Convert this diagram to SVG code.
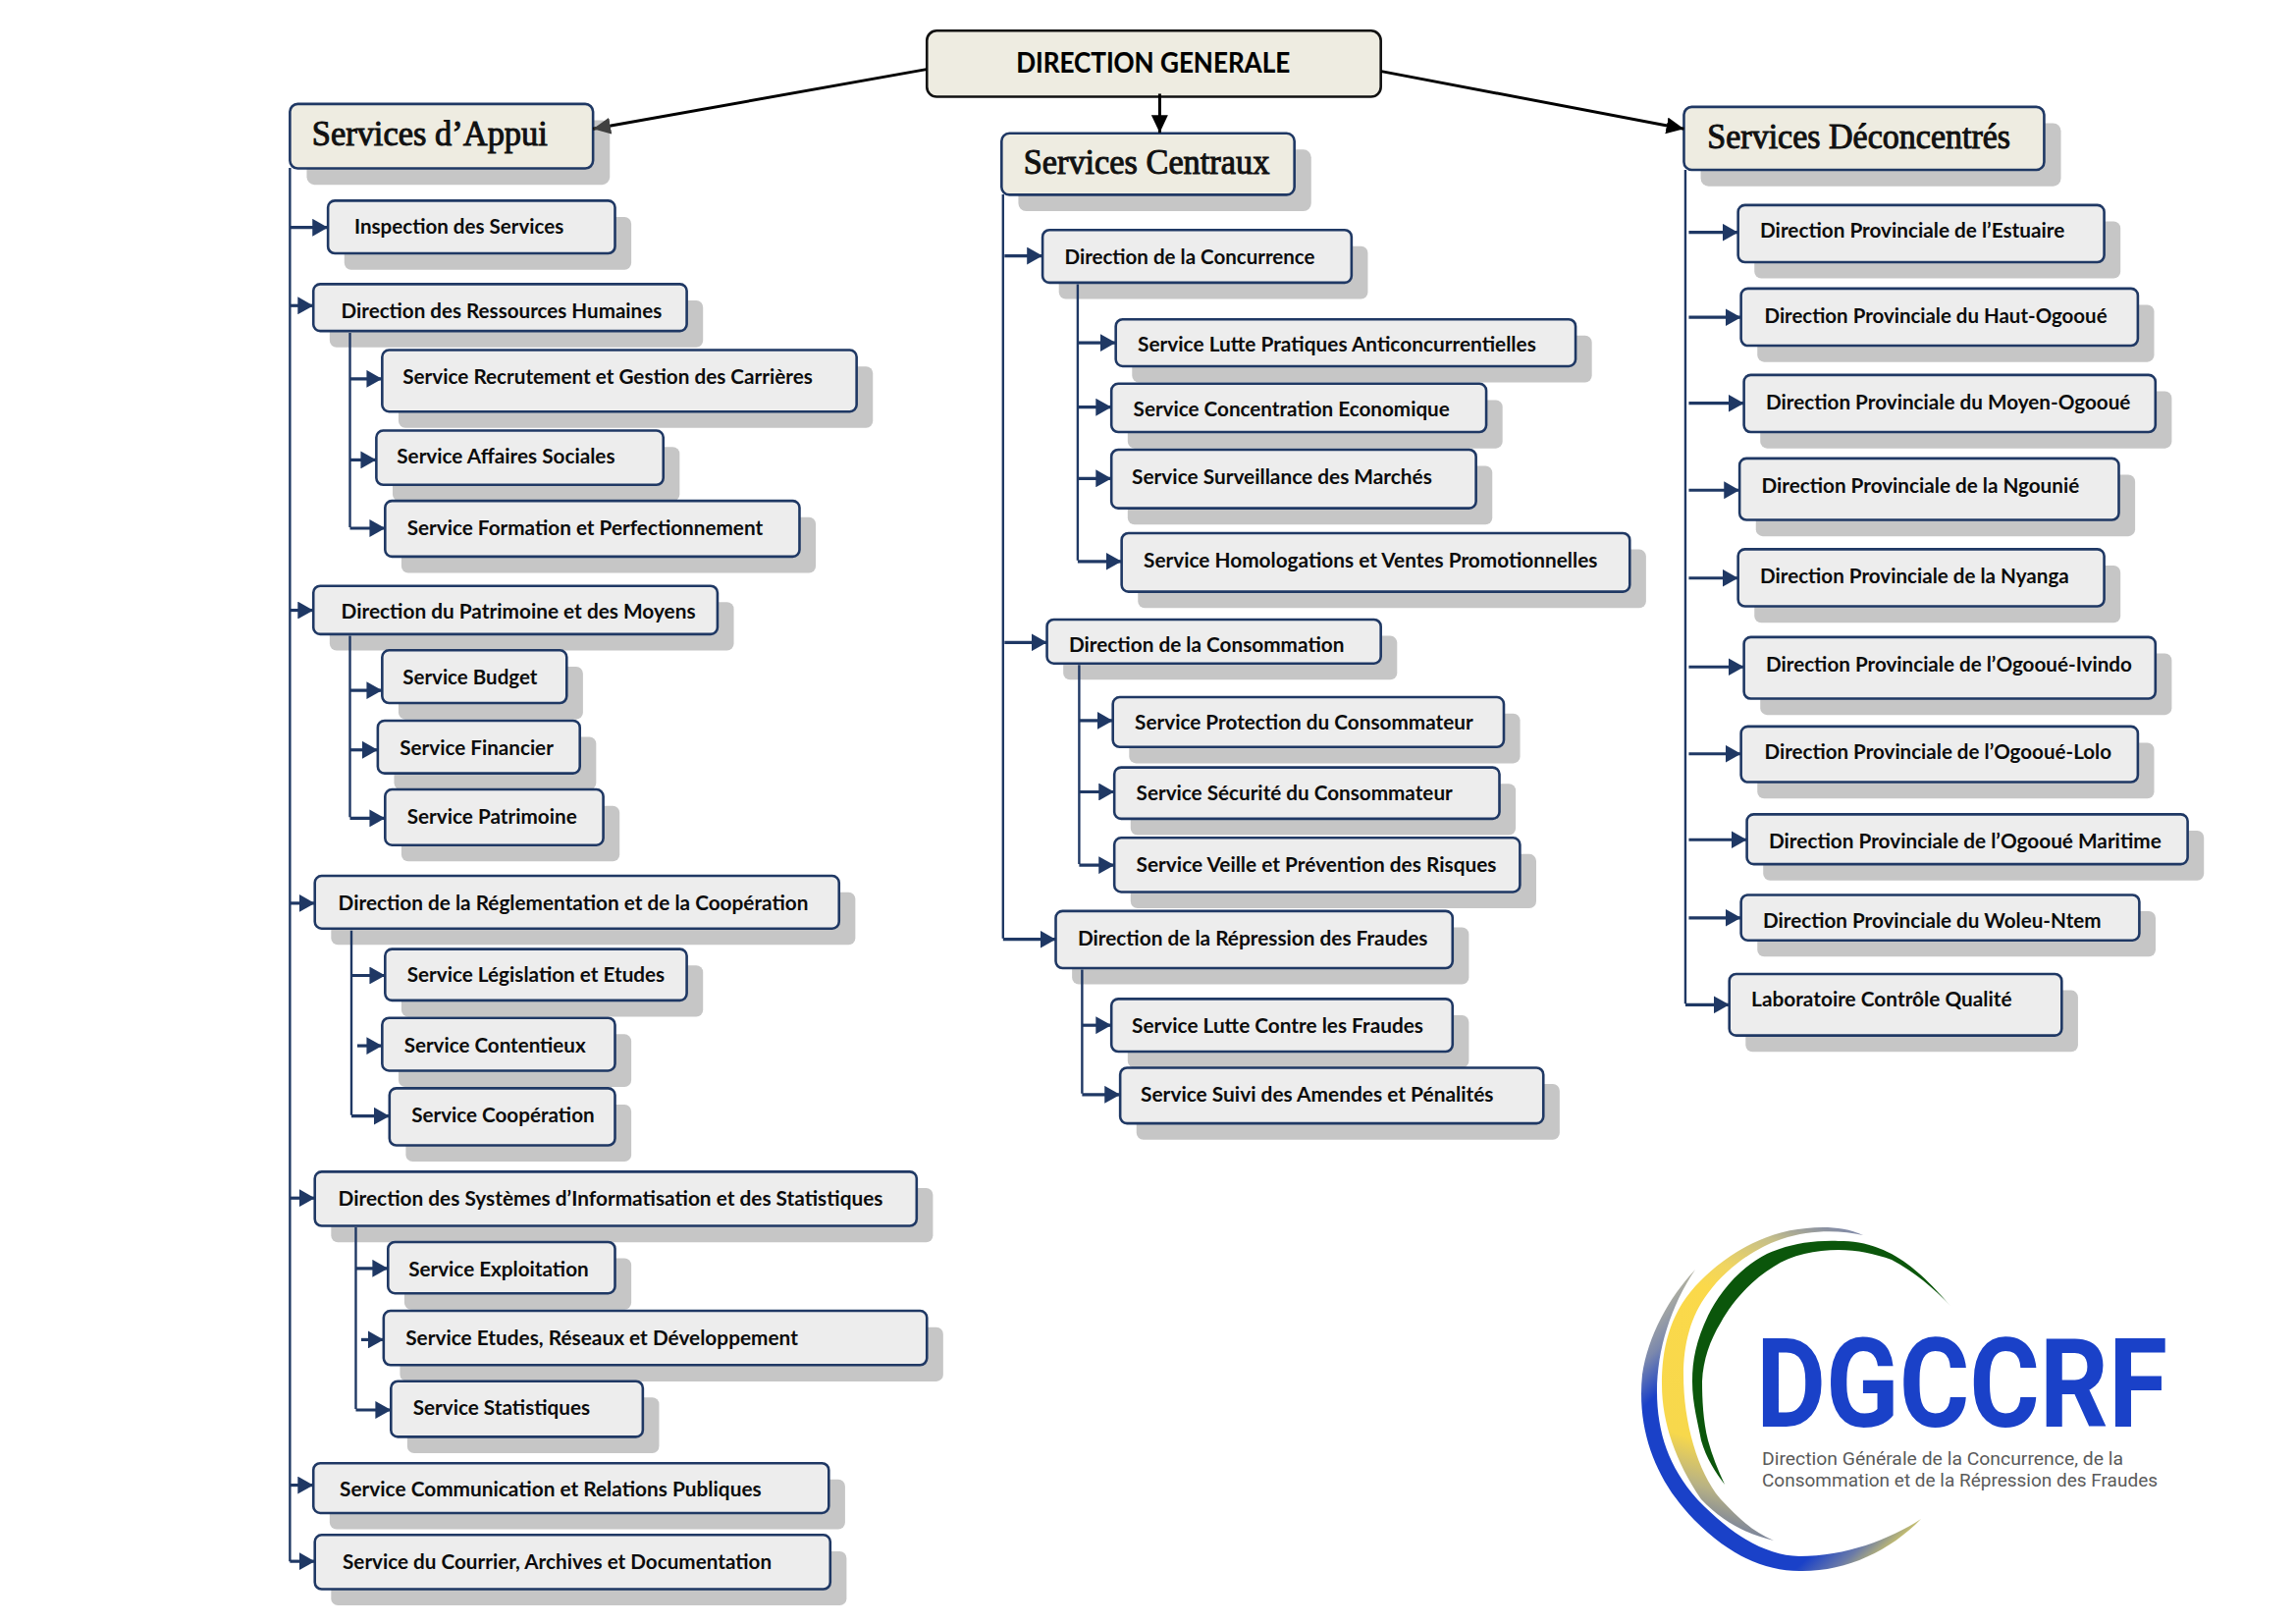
<svg xmlns="http://www.w3.org/2000/svg" width="2339" height="1654" viewBox="0 0 2339 1654">
<defs>
<style>
.sh{fill:#c6c6c6;transform:translate(.7px,.7px)}
.bx{fill:#ededed;stroke:#1f3864;stroke-width:2.6}
.hd{fill:#eeece1;stroke:#1f3864;stroke-width:2.6}
.dg{fill:#eeece1;stroke:#111;stroke-width:2.6}
.t{font-family:"Lato","Liberation Sans",sans-serif;font-weight:700;font-size:21.5px;fill:#0c0c0c;transform:translateY(1px)}
.tdg{font-family:"Lato","Liberation Sans",sans-serif;font-weight:700;font-size:29px;fill:#000;stroke:#000;stroke-width:.2}
.th{font-family:"Liberation Serif",serif;font-weight:400;font-size:35px;fill:#111;stroke:#111;stroke-width:1}
.trunk{fill:none;stroke:#1f3864;stroke-width:2.4}
.st{fill:none;stroke:#1f3864;stroke-width:3.2;marker-end:url(#na);transform:translateY(1px)}
.bl{fill:none;stroke:#000;stroke-width:3}
</style>
<marker id="na" markerUnits="userSpaceOnUse" markerWidth="16" markerHeight="18" viewBox="0 0 16 18" refX="16" refY="9" orient="auto"><path d="M0 0L16 9L0 18Z" fill="#1f3864"/></marker>
<marker id="ba" markerUnits="userSpaceOnUse" markerWidth="18" markerHeight="17" viewBox="0 0 18 17" refX="18" refY="8.5" orient="auto"><path d="M0 0L18 8.5L0 17Z" fill="#000"/></marker>
<marker id="ga" markerUnits="userSpaceOnUse" markerWidth="18" markerHeight="17" viewBox="0 0 18 17" refX="18" refY="8.5" orient="auto"><path d="M0 0L18 8.5L0 17Z" fill="#404040"/></marker>
<linearGradient id="gb" gradientUnits="userSpaceOnUse" x1="1727" y1="1293" x2="1957" y2="1547"><stop offset="0" stop-color="#b0b0a0"/><stop offset=".1" stop-color="#7b88ad"/><stop offset=".2" stop-color="#1a41c8"/><stop offset=".86" stop-color="#1a41c8"/><stop offset=".94" stop-color="#6a7aa8"/><stop offset="1" stop-color="#c2bc70"/></linearGradient>
<linearGradient id="gy" gradientUnits="userSpaceOnUse" x1="1880" y1="1250" x2="1780" y2="1570"><stop offset="0" stop-color="#7c86a8"/><stop offset=".1" stop-color="#c4be8a"/><stop offset=".22" stop-color="#f0d560"/><stop offset=".3" stop-color="#fbd94a"/><stop offset=".75" stop-color="#f7d84c"/><stop offset=".88" stop-color="#b8b284"/><stop offset="1" stop-color="#6f7ba0"/></linearGradient>
</defs>
<g id="page" transform="scale(.99447)">
<g id="dg"><rect class="dg" x="949.500" y="31.500" width="465" height="67.500" rx="10"/><text class="tdg" x="1041" y="74" textLength="280.500" lengthAdjust="spacingAndGlyphs">DIRECTION GENERALE</text></g>
<g id="sa"><rect class="sh" x="313.500" y="122.500" width="310.500" height="66" rx="8"/><rect class="hd" x="297" y="106.500" width="310.500" height="66" rx="8"/><text class="th" x="319.500" y="149" textLength="241.500" lengthAdjust="spacingAndGlyphs">Services d’Appui</text></g>
<g id="sc"><rect class="sh" x="1042.500" y="152.500" width="300" height="63" rx="8"/><rect class="hd" x="1026" y="136.500" width="300" height="63" rx="8"/><text class="th" x="1048.500" y="178" textLength="252" lengthAdjust="spacingAndGlyphs">Services Centraux</text></g>
<g id="sd"><rect class="sh" x="1741.500" y="125.500" width="369" height="64.500" rx="8"/><rect class="hd" x="1725" y="109.500" width="369" height="64.500" rx="8"/><text class="th" x="1749" y="152" textLength="310.500" lengthAdjust="spacingAndGlyphs">Services Déconcentrés</text></g>

<g id="a1"><rect class="sh" x="352" y="221.500" width="294" height="54" rx="7"/><rect class="bx" x="336" y="205.500" width="294" height="54" rx="7"/><text class="t" x="363" y="238" textLength="214.500" lengthAdjust="spacingAndGlyphs">Inspection des Services</text></g>
<g id="a2"><rect class="sh" x="337" y="307" width="382.500" height="48" rx="7"/><rect class="bx" x="321" y="291" width="382.500" height="48" rx="7"/><text class="t" x="349.500" y="325" textLength="328.500" lengthAdjust="spacingAndGlyphs">Direction des Ressources Humaines</text></g>
<g id="a3"><rect class="sh" x="407.500" y="374.500" width="486" height="63" rx="7"/><rect class="bx" x="391.500" y="358.500" width="486" height="63" rx="7"/><text class="t" x="412.500" y="392.500" textLength="420" lengthAdjust="spacingAndGlyphs">Service Recrutement et Gestion des Carrières</text></g>
<g id="a4"><rect class="sh" x="401.500" y="457" width="294" height="55.500" rx="7"/><rect class="bx" x="385.500" y="441" width="294" height="55.500" rx="7"/><text class="t" x="406.500" y="473.500" textLength="223.500" lengthAdjust="spacingAndGlyphs">Service Affaires Sociales</text></g>
<g id="a5"><rect class="sh" x="410.500" y="529" width="424.500" height="57" rx="7"/><rect class="bx" x="394.500" y="513" width="424.500" height="57" rx="7"/><text class="t" x="417" y="547" textLength="364.500" lengthAdjust="spacingAndGlyphs">Service Formation et Perfectionnement</text></g>
<g id="a6"><rect class="sh" x="337" y="616" width="414" height="49.500" rx="7"/><rect class="bx" x="321" y="600" width="414" height="49.500" rx="7"/><text class="t" x="349.500" y="632.500" textLength="363" lengthAdjust="spacingAndGlyphs">Direction du Patrimoine et des Moyens</text></g>
<g id="a7"><rect class="sh" x="407.500" y="682" width="189" height="54" rx="7"/><rect class="bx" x="391.500" y="666" width="189" height="54" rx="7"/><text class="t" x="412.500" y="700" textLength="138" lengthAdjust="spacingAndGlyphs">Service Budget</text></g>
<g id="a8"><rect class="sh" x="403" y="754" width="207" height="54" rx="7"/><rect class="bx" x="387" y="738" width="207" height="54" rx="7"/><text class="t" x="409.500" y="772" textLength="157.500" lengthAdjust="spacingAndGlyphs">Service Financier</text></g>
<g id="a9"><rect class="sh" x="410.500" y="824.500" width="223.500" height="57" rx="7"/><rect class="bx" x="394.500" y="808.500" width="223.500" height="57" rx="7"/><text class="t" x="417" y="842.500" textLength="174" lengthAdjust="spacingAndGlyphs">Service Patrimoine</text></g>
<g id="a10"><rect class="sh" x="338.500" y="913" width="537" height="54" rx="7"/><rect class="bx" x="322.500" y="897" width="537" height="54" rx="7"/><text class="t" x="346.500" y="931" textLength="481.500" lengthAdjust="spacingAndGlyphs">Direction de la Réglementation et de la Coopération</text></g>
<g id="a11"><rect class="sh" x="410.500" y="988" width="309" height="52.500" rx="7"/><rect class="bx" x="394.500" y="972" width="309" height="52.500" rx="7"/><text class="t" x="417" y="1004.500" textLength="264" lengthAdjust="spacingAndGlyphs">Service Législation et Etudes</text></g>
<g id="a12"><rect class="sh" x="407.500" y="1058.500" width="238.500" height="54" rx="7"/><rect class="bx" x="391.500" y="1042.500" width="238.500" height="54" rx="7"/><text class="t" x="414" y="1076.500" textLength="186" lengthAdjust="spacingAndGlyphs">Service Contentieux</text></g>
<g id="a13"><rect class="sh" x="415" y="1130.500" width="231" height="58.500" rx="7"/><rect class="bx" x="399" y="1114.500" width="231" height="58.500" rx="7"/><text class="t" x="421.500" y="1148.500" textLength="187.500" lengthAdjust="spacingAndGlyphs">Service Coopération</text></g>
<g id="a14"><rect class="sh" x="338.500" y="1216" width="616.500" height="55.500" rx="7"/><rect class="bx" x="322.500" y="1200" width="616.500" height="55.500" rx="7"/><text class="t" x="346.500" y="1234" textLength="558" lengthAdjust="spacingAndGlyphs">Direction des Systèmes d’Informatisation et des Statistiques</text></g>
<g id="a15"><rect class="sh" x="413.500" y="1288" width="232.500" height="52.500" rx="7"/><rect class="bx" x="397.500" y="1272" width="232.500" height="52.500" rx="7"/><text class="t" x="418.500" y="1306" textLength="184.500" lengthAdjust="spacingAndGlyphs">Service Exploitation</text></g>
<g id="a16"><rect class="sh" x="409" y="1358.500" width="556.500" height="55.500" rx="7"/><rect class="bx" x="393" y="1342.500" width="556.500" height="55.500" rx="7"/><text class="t" x="415.500" y="1376.500" textLength="402" lengthAdjust="spacingAndGlyphs">Service Etudes, Réseaux et Développement</text></g>
<g id="a17"><rect class="sh" x="416.500" y="1430.500" width="258" height="57" rx="7"/><rect class="bx" x="400.500" y="1414.500" width="258" height="57" rx="7"/><text class="t" x="423" y="1448.500" textLength="181.500" lengthAdjust="spacingAndGlyphs">Service Statistiques</text></g>
<g id="a18"><rect class="sh" x="337" y="1514.500" width="528" height="51" rx="7"/><rect class="bx" x="321" y="1498.500" width="528" height="51" rx="7"/><text class="t" x="348" y="1531" textLength="432" lengthAdjust="spacingAndGlyphs">Service Communication et Relations Publiques</text></g>
<g id="a19"><rect class="sh" x="338.500" y="1588" width="528" height="55.500" rx="7"/><rect class="bx" x="322.500" y="1572" width="528" height="55.500" rx="7"/><text class="t" x="351" y="1606" textLength="439.500" lengthAdjust="spacingAndGlyphs">Service du Courrier, Archives et Documentation</text></g>

<g id="c1"><rect class="sh" x="1084" y="251.500" width="316.500" height="54" rx="7"/><rect class="bx" x="1068" y="235.500" width="316.500" height="54" rx="7"/><text class="t" x="1090.500" y="269.500" textLength="256.500" lengthAdjust="spacingAndGlyphs">Direction de la Concurrence</text></g>
<g id="c2"><rect class="sh" x="1159" y="343" width="471" height="48" rx="7"/><rect class="bx" x="1143" y="327" width="471" height="48" rx="7"/><text class="t" x="1165.500" y="359.500" textLength="408" lengthAdjust="spacingAndGlyphs">Service Lutte Pratiques Anticoncurrentielles</text></g>
<g id="c3"><rect class="sh" x="1154.500" y="409" width="384" height="49.500" rx="7"/><rect class="bx" x="1138.500" y="393" width="384" height="49.500" rx="7"/><text class="t" x="1161" y="425.500" textLength="324" lengthAdjust="spacingAndGlyphs">Service Concentration Economique</text></g>
<g id="c4"><rect class="sh" x="1154.500" y="476.500" width="373.500" height="60" rx="7"/><rect class="bx" x="1138.500" y="460.500" width="373.500" height="60" rx="7"/><text class="t" x="1159.500" y="494.500" textLength="307.500" lengthAdjust="spacingAndGlyphs">Service Surveillance des Marchés</text></g>
<g id="c5"><rect class="sh" x="1165" y="562" width="520.500" height="60" rx="7"/><rect class="bx" x="1149" y="546" width="520.500" height="60" rx="7"/><text class="t" x="1171.500" y="580" textLength="465" lengthAdjust="spacingAndGlyphs">Service Homologations et Ventes Promotionnelles</text></g>
<g id="c6"><rect class="sh" x="1088.500" y="650.500" width="342" height="45" rx="7"/><rect class="bx" x="1072.500" y="634.500" width="342" height="45" rx="7"/><text class="t" x="1095" y="667" textLength="282" lengthAdjust="spacingAndGlyphs">Direction de la Consommation</text></g>
<g id="c7"><rect class="sh" x="1156" y="730" width="400.500" height="51" rx="7"/><rect class="bx" x="1140" y="714" width="400.500" height="51" rx="7"/><text class="t" x="1162.500" y="746.500" textLength="346.500" lengthAdjust="spacingAndGlyphs">Service Protection du Consommateur</text></g>
<g id="c8"><rect class="sh" x="1157.500" y="802" width="394.500" height="52.500" rx="7"/><rect class="bx" x="1141.500" y="786" width="394.500" height="52.500" rx="7"/><text class="t" x="1164" y="818.500" textLength="324" lengthAdjust="spacingAndGlyphs">Service Sécurité du Consommateur</text></g>
<g id="c9"><rect class="sh" x="1157.500" y="874" width="415.500" height="55.500" rx="7"/><rect class="bx" x="1141.500" y="858" width="415.500" height="55.500" rx="7"/><text class="t" x="1164" y="892" textLength="369" lengthAdjust="spacingAndGlyphs">Service Veille et Prévention des Risques</text></g>
<g id="c10"><rect class="sh" x="1097.500" y="949" width="406.500" height="58.500" rx="7"/><rect class="bx" x="1081.500" y="933" width="406.500" height="58.500" rx="7"/><text class="t" x="1104" y="967" textLength="358.500" lengthAdjust="spacingAndGlyphs">Direction de la Répression des Fraudes</text></g>
<g id="c11"><rect class="sh" x="1154.500" y="1039" width="349.500" height="54" rx="7"/><rect class="bx" x="1138.500" y="1023" width="349.500" height="54" rx="7"/><text class="t" x="1159.500" y="1057" textLength="298.500" lengthAdjust="spacingAndGlyphs">Service Lutte Contre les Fraudes</text></g>
<g id="c12"><rect class="sh" x="1163.500" y="1109.500" width="433.500" height="57" rx="7"/><rect class="bx" x="1147.500" y="1093.500" width="433.500" height="57" rx="7"/><text class="t" x="1168.500" y="1127.500" textLength="361.500" lengthAdjust="spacingAndGlyphs">Service Suivi des Amendes et Pénalités</text></g>

<g id="d1"><rect class="sh" x="1796.500" y="226" width="375" height="58.500" rx="7"/><rect class="bx" x="1780.500" y="210" width="375" height="58.500" rx="7"/><text class="t" x="1803" y="242.500" textLength="312" lengthAdjust="spacingAndGlyphs">Direction Provinciale de l’Estuaire</text></g>
<g id="d2"><rect class="sh" x="1799.500" y="311.500" width="406.500" height="58.500" rx="7"/><rect class="bx" x="1783.500" y="295.500" width="406.500" height="58.500" rx="7"/><text class="t" x="1807.500" y="329.500" textLength="351" lengthAdjust="spacingAndGlyphs">Direction Provinciale du Haut-Ogooué</text></g>
<g id="d3"><rect class="sh" x="1802.500" y="400" width="421.500" height="58.500" rx="7"/><rect class="bx" x="1786.500" y="384" width="421.500" height="58.500" rx="7"/><text class="t" x="1809" y="418" textLength="373.500" lengthAdjust="spacingAndGlyphs">Direction Provinciale du Moyen-Ogooué</text></g>
<g id="d4"><rect class="sh" x="1798" y="485.500" width="388.500" height="63" rx="7"/><rect class="bx" x="1782" y="469.500" width="388.500" height="63" rx="7"/><text class="t" x="1804.500" y="503.500" textLength="325.500" lengthAdjust="spacingAndGlyphs">Direction Provinciale de la Ngounié</text></g>
<g id="d5"><rect class="sh" x="1796.500" y="578.500" width="375" height="58.500" rx="7"/><rect class="bx" x="1780.500" y="562.500" width="375" height="58.500" rx="7"/><text class="t" x="1803" y="596.500" textLength="316.500" lengthAdjust="spacingAndGlyphs">Direction Provinciale de la Nyanga</text></g>
<g id="d6"><rect class="sh" x="1802.500" y="668.500" width="421.500" height="63" rx="7"/><rect class="bx" x="1786.500" y="652.500" width="421.500" height="63" rx="7"/><text class="t" x="1809" y="686.500" textLength="375" lengthAdjust="spacingAndGlyphs">Direction Provinciale de l’Ogooué-Ivindo</text></g>
<g id="d7"><rect class="sh" x="1799.500" y="760" width="406.500" height="57" rx="7"/><rect class="bx" x="1783.500" y="744" width="406.500" height="57" rx="7"/><text class="t" x="1807.500" y="776.500" textLength="355.500" lengthAdjust="spacingAndGlyphs">Direction Provinciale de l’Ogooué-Lolo</text></g>
<g id="d8"><rect class="sh" x="1805.500" y="850" width="451.500" height="51" rx="7"/><rect class="bx" x="1789.500" y="834" width="451.500" height="51" rx="7"/><text class="t" x="1812" y="868" textLength="402" lengthAdjust="spacingAndGlyphs">Direction Provinciale de l’Ogooué Maritime</text></g>
<g id="d9"><rect class="sh" x="1799.500" y="932.500" width="408" height="46.500" rx="7"/><rect class="bx" x="1783.500" y="916.500" width="408" height="46.500" rx="7"/><text class="t" x="1806" y="949" textLength="346.500" lengthAdjust="spacingAndGlyphs">Direction Provinciale du Woleu-Ntem</text></g>
<g id="d10"><rect class="sh" x="1787.500" y="1013.500" width="340.500" height="63" rx="7"/><rect class="bx" x="1771.500" y="997.500" width="340.500" height="63" rx="7"/><text class="t" x="1794" y="1030" textLength="267" lengthAdjust="spacingAndGlyphs">Laboratoire Contrôle Qualité</text></g>

<g id="connectors">
<path class="trunk" d="M297 172V1599M358.500 341V540M358.500 651V837M360 953V1142M364.500 1257V1443M1027.500 199V961M1104 291V574M1105.500 681V885M1108.500 993V1120M1726.500 174V1028"/>
<path class="st" d="M297 232H336"/><path class="st" d="M297 312H321"/><path class="st" d="M297 624H321"/><path class="st" d="M297 924H322.500"/><path class="st" d="M297 1226H322.500"/><path class="st" d="M297 1520H321"/><path class="st" d="M297 1598H322.500"/>
<path class="st" d="M358.500 387H391.500"/><path class="st" d="M358.500 470H385.500"/><path class="st" d="M358.500 540H394.500"/><path class="st" d="M358.500 706H391.500"/><path class="st" d="M358.500 767H387"/><path class="st" d="M358.500 837H394.500"/><path class="st" d="M360 998H394.500"/><path class="st" d="M366 1070H391.500"/><path class="st" d="M360 1142H399"/><path class="st" d="M364.500 1298H397.500"/><path class="st" d="M370 1371H393"/><path class="st" d="M364.500 1443H400.500"/>
<path class="st" d="M1029 261H1068"/><path class="st" d="M1029 657H1072.500"/><path class="st" d="M1027.500 961H1081.500"/>
<path class="st" d="M1104 350H1143"/><path class="st" d="M1104 416H1138.500"/><path class="st" d="M1104 489H1138.500"/><path class="st" d="M1104 574H1149"/><path class="st" d="M1105.500 737H1140"/><path class="st" d="M1105.500 810H1141.500"/><path class="st" d="M1105.500 885H1141.500"/><path class="st" d="M1108.500 1049H1138.500"/><path class="st" d="M1108.500 1120H1147.500"/>
<path class="st" d="M1730 237H1780.500"/><path class="st" d="M1730 324H1783.500"/><path class="st" d="M1730 412H1786.500"/><path class="st" d="M1730 501H1782"/><path class="st" d="M1730 591H1780.500"/><path class="st" d="M1730 682H1786.500"/><path class="st" d="M1730 771H1783.500"/><path class="st" d="M1730 859H1789.500"/><path class="st" d="M1730 939H1783.500"/><path class="st" d="M1726.500 1028H1771.500"/>
<path class="bl" marker-end="url(#ga)" d="M949 71L607.500 132"/>
<path class="bl" marker-end="url(#ba)" d="M1188 96V136"/>
<path class="bl" marker-end="url(#ba)" d="M1415 73L1725 132"/>
</g>
</g>

<g id="logo">
<path fill="url(#gb)" d="M1727 1293C1700 1322 1679 1360 1673 1400C1667 1460 1689 1510 1726 1548C1765 1587 1800 1600 1833 1600C1880 1601 1925 1580 1957 1547C1925 1568 1880 1585 1833 1585C1800 1584 1767 1566 1730 1528C1701 1496 1688 1460 1688 1417C1688 1375 1702 1330 1727 1293Z"/>
<path fill="url(#gy)" d="M1898 1258C1880 1250 1860 1249 1840 1251C1790 1255 1750 1285 1727 1310C1700 1340 1693 1375 1693 1410C1693 1450 1708 1490 1733 1527C1755 1550 1780 1563 1807 1569C1785 1560 1770 1545 1753 1527C1730 1500 1715 1450 1715 1400C1715 1370 1722 1340 1740 1317C1760 1290 1790 1270 1815 1262C1845 1252 1875 1253 1898 1258Z"/>
<path fill="#0b560b" d="M1987 1330C1965 1305 1950 1290 1927 1277C1905 1266 1890 1264 1873 1264C1845 1263 1820 1268 1800 1277C1770 1292 1750 1320 1740 1340C1728 1365 1724 1385 1724 1407C1724 1430 1730 1450 1733 1467C1738 1485 1748 1500 1757 1512C1750 1497 1744 1482 1740 1467C1735 1447 1734 1425 1734 1407C1735 1385 1742 1365 1753 1347C1765 1325 1785 1303 1807 1290C1825 1278 1850 1273 1873 1273C1892 1273 1910 1277 1927 1283C1950 1295 1970 1312 1987 1330Z"/>
<text x="1789" y="1453" font-family="Roboto,'Liberation Sans',sans-serif" font-weight="700" font-size="127" fill="#1a41c8" textLength="419" lengthAdjust="spacingAndGlyphs">DGCCRF</text>
<text x="1795" y="1492" font-family="Roboto,'Liberation Sans',sans-serif" font-size="18" fill="#5a5a5a" textLength="368" lengthAdjust="spacingAndGlyphs">Direction Générale de la Concurrence, de la</text>
<text x="1795" y="1514" font-family="Roboto,'Liberation Sans',sans-serif" font-size="18" fill="#5a5a5a" textLength="403" lengthAdjust="spacingAndGlyphs">Consommation et de la Répression des Fraudes</text>
</g>
</svg>
